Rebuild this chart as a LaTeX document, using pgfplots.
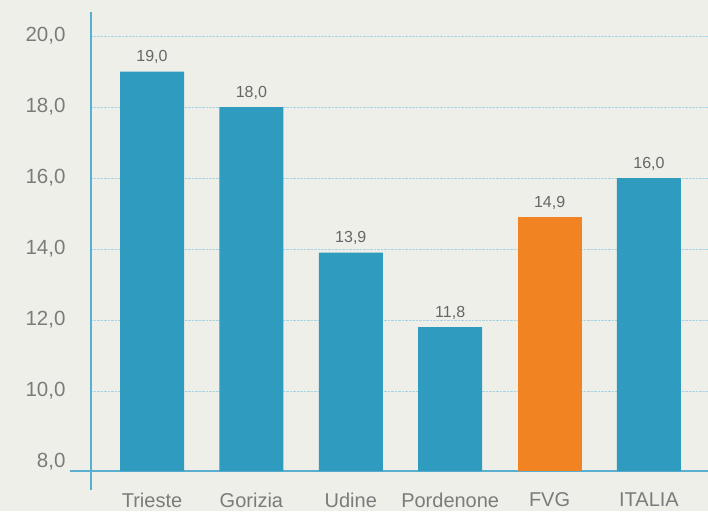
\documentclass[border=0pt]{standalone}
\usepackage{fontspec}
\setmainfont{Liberation Sans}
\usepackage{pgfplots}
\pgfplotsset{compat=1.18}
\definecolor{bg}{HTML}{EFEFEA}
\definecolor{barblue}{HTML}{2E9BBF}
\definecolor{barorange}{HTML}{F28322}
\definecolor{axblue}{HTML}{5AAED0}
\definecolor{gridblue}{HTML}{A9D2E2}
\definecolor{txt}{HTML}{7B7B7B}
\definecolor{txtdark}{HTML}{666666}
\begin{document}
\begin{tikzpicture}[x=1pt,y=1pt]
\fill[bg] (0,0) rectangle (708,511);
\begin{axis}[
  at={(91pt,40pt)}, anchor=south west,
  scale only axis, width=617pt, height=459pt,
  xmin=-0.614, xmax=5.594, ymin=7.746, ymax=20.68,
  axis x line=bottom, axis y line=left,
  axis line style={-, draw=axblue, line width=2.6pt},
  x axis line style={shorten <=-21pt},
  y axis line style={shorten <=-19pt},
  xtick={0,...,5},
  xticklabels={Trieste,Gorizia,Udine,Pordenone,FVG,ITALIA},
  ytick={10,12,...,20},
  extra y ticks={8},
  extra y tick style={grid=none},
  ymajorgrids,
  major grid style={densely dotted, draw=gridblue, line width=1pt},
  tick style={draw=none},
  major tick length=0pt,
  /pgf/number format/.cd, fixed, fixed zerofill, precision=1, use comma, assume math mode=true,
  /pgfplots/.cd,
  yticklabel style={font=\fontsize{20.5}{20.5}\selectfont, text=txt, xshift=-22pt},
  xticklabel style={font=\fontsize{20}{20}\selectfont, text=txt, yshift=-18pt},
  ybar, bar width=64pt, bar shift=0pt,
  nodes near coords,
  every node near coord/.append style={font=\fontsize{16}{16}\selectfont, text=txtdark, yshift=4.5pt},
]
\addplot[fill=barblue, draw=none] coordinates {(0,19.0) (1,18.0) (2,13.9) (3,11.8) (5,16.0)};
\addplot[fill=barorange, draw=none] coordinates {(4,14.9)};
\end{axis}
\pgfresetboundingbox
\useasboundingbox (0,0) rectangle (708,511);
\end{tikzpicture}
\end{document}
